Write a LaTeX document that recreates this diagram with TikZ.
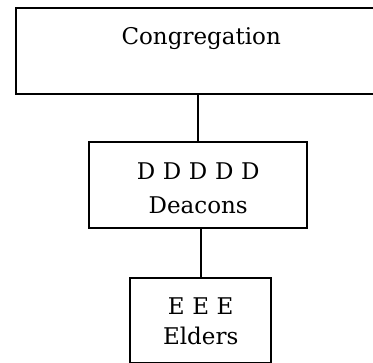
\documentclass[tikz,border=0pt]{standalone}
\usepackage{fontspec}
\setmainfont{DejaVu Serif}
\begin{document}
\begin{tikzpicture}[x=1pt,y=1pt,
  box/.style={draw, line width=2.4pt, inner sep=0pt, align=center, anchor=north west},
  link/.style={line width=2.4pt}]
\useasboundingbox (0,0) rectangle (373,-363);
\node[box, font=\fontsize{23}{33}\selectfont, minimum width=370pt, text width=360pt, text height=36pt, text depth=50pt] (c) at (15,-7) {Congregation};
\node[box, font=\fontsize{23}{34}\selectfont, minimum width=218pt, text width=210pt, text height=37pt, text depth=49pt] (d) at (88,-141) {D D D D D\\Deacons};
\node[box, font=\fontsize{23}{30}\selectfont, minimum width=141pt, text width=135pt, text height=36pt, text depth=49pt] (e) at (129,-277) {E E E\\Elders};
\draw[link] (c.south -| d.north) -- (d.north);
\draw[link] (d.south -| e.north) -- (e.north);
\end{tikzpicture}
\end{document}
